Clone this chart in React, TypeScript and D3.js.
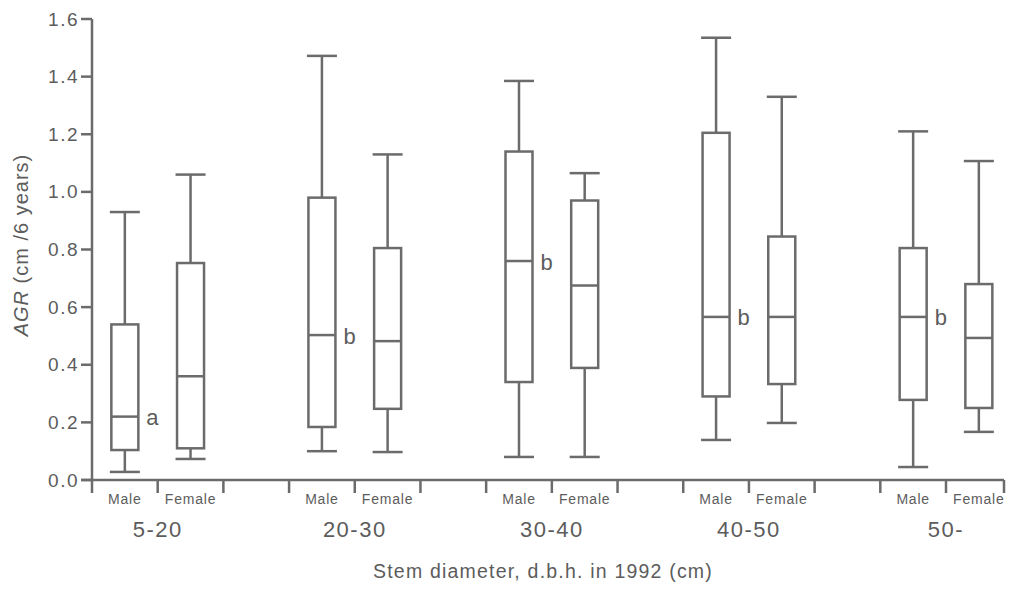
import React, { useEffect, useRef } from 'react';
import * as d3 from 'd3';

// stem diameter classes and sexes
const groups = ['5-20', '20-30', '30-40', '40-50', '50-'];
const sexes = ['Male', 'Female'];

// box statistics, order: group0 male, group0 female, group1 male, ...
const whiskerLow = [0.028, 0.073, 0.10, 0.097, 0.08, 0.08, 0.139, 0.198, 0.045, 0.167];
const quart1 = [0.104, 0.11, 0.184, 0.247, 0.34, 0.389, 0.29, 0.333, 0.278, 0.25];
const medians = [0.22, 0.36, 0.503, 0.482, 0.76, 0.675, 0.566, 0.566, 0.566, 0.493];
const quart3 = [0.54, 0.753, 0.98, 0.805, 1.14, 0.97, 1.205, 0.845, 0.805, 0.68];
const whiskerHigh = [0.93, 1.06, 1.472, 1.13, 1.385, 1.065, 1.535, 1.33, 1.21, 1.107];

// significance letters for male boxes
const maleLetters = ['a', 'b', 'b', 'b', 'b'];

const yTicks = [0, 0.2, 0.4, 0.6, 0.8, 1.0, 1.2, 1.4, 1.6];

const W = 1009;
const H = 591;
const INK = '#6b6b6b';
const TEXT = '#5c5c5c';
const FONT = '"Liberation Sans", Arial, Helvetica, sans-serif';

export default function App() {
  const svgRef = useRef<SVGSVGElement>(null);

  useEffect(() => {
    if (!svgRef.current) return;
    const svg = d3.select(svgRef.current);
    svg.selectAll('*').remove();

    const y = d3.scaleLinear().domain([0, 1.6]).range([480, 19]);
    // slots: each group = male slot, female slot, empty slot
    const x = d3.scaleLinear().domain([0, 13]).range([92, 946]);
    const axisEnd = 1004;

    const g = svg.append('g');

    // y axis
    g.append('line')
      .attr('x1', x(0)).attr('x2', x(0))
      .attr('y1', y(0)).attr('y2', y(1.6))
      .attr('stroke', INK).attr('stroke-width', 2.5);

    yTicks.forEach(t => {
      g.append('line')
        .attr('x1', x(0) - 11).attr('x2', x(0))
        .attr('y1', y(t)).attr('y2', y(t))
        .attr('stroke', INK).attr('stroke-width', 2.5);
      g.append('text')
        .attr('x', x(0) - 13)
        .attr('y', y(t))
        .attr('text-anchor', 'end')
        .attr('dominant-baseline', 'central')
        .style('font-size', '19px')
        .style('letter-spacing', '1.5px')
        .style('font-family', FONT)
        .style('fill', TEXT)
        .text(t.toFixed(1));
    });

    // x axis
    g.append('line')
      .attr('x1', x(0) - 11).attr('x2', axisEnd)
      .attr('y1', y(0)).attr('y2', y(0))
      .attr('stroke', INK).attr('stroke-width', 2.5);

    const tickPos = d3.range(0, 14).map(i => x(i)).concat([axisEnd]);
    tickPos.forEach(px => {
      g.append('line')
        .attr('x1', px).attr('x2', px)
        .attr('y1', y(0)).attr('y2', y(0) + 13)
        .attr('stroke', INK).attr('stroke-width', 2.5);
    });

    const boxW = 27;
    const capW = 30;

    groups.forEach((grp, gi) => {
      sexes.forEach((sex, si) => {
        const k = gi * 2 + si;
        const slot = gi * 3 + si;
        const cx = x(slot + 0.5);

        // whisker
        g.append('line')
          .attr('x1', cx).attr('x2', cx)
          .attr('y1', y(whiskerHigh[k])).attr('y2', y(whiskerLow[k]))
          .attr('stroke', INK).attr('stroke-width', 2.5);
        [whiskerHigh[k], whiskerLow[k]].forEach(v => {
          g.append('line')
            .attr('x1', cx - capW / 2).attr('x2', cx + capW / 2)
            .attr('y1', y(v)).attr('y2', y(v))
            .attr('stroke', INK).attr('stroke-width', 2.5);
        });

        // box
        g.append('rect')
          .attr('x', cx - boxW / 2)
          .attr('y', y(quart3[k]))
          .attr('width', boxW)
          .attr('height', y(quart1[k]) - y(quart3[k]))
          .attr('fill', '#fff')
          .attr('stroke', INK).attr('stroke-width', 2.5);

        // median
        g.append('line')
          .attr('x1', cx - boxW / 2).attr('x2', cx + boxW / 2)
          .attr('y1', y(medians[k])).attr('y2', y(medians[k]))
          .attr('stroke', INK).attr('stroke-width', 2.5);

        // sex label
        g.append('text')
          .attr('x', cx)
          .attr('y', y(0) + 24)
          .attr('text-anchor', 'middle')
          .style('font-size', '14px')
          .style('letter-spacing', '0.8px')
          .style('font-family', FONT)
          .style('fill', TEXT)
          .text(sex);

        if (si === 0) {
          g.append('text')
            .attr('x', cx + boxW / 2 + 8)
            .attr('y', y(medians[k]) + 1)
            .attr('dominant-baseline', 'central')
            .style('font-size', '22px')
            .style('font-family', FONT)
            .style('fill', TEXT)
            .text(maleLetters[gi]);
        }
      });

      // group label
      g.append('text')
        .attr('x', x(gi * 3 + 1))
        .attr('y', y(0) + 57)
        .attr('text-anchor', 'middle')
        .style('font-size', '22px')
        .style('letter-spacing', '1.5px')
        .style('font-family', FONT)
        .style('fill', TEXT)
        .text(grp);
    });

    // axis titles
    g.append('text')
      .attr('x', 543)
      .attr('y', 578)
      .attr('text-anchor', 'middle')
      .style('font-size', '19.5px')
      .style('letter-spacing', '1.2px')
      .style('font-family', FONT)
      .style('fill', TEXT)
      .text('Stem diameter, d.b.h. in 1992 (cm)');

    const yt = g.append('text')
      .attr('transform', 'translate(28,245) rotate(-90)')
      .attr('text-anchor', 'middle')
      .style('font-size', '20px')
      .style('letter-spacing', '1px')
      .style('font-family', FONT)
      .style('fill', TEXT);
    yt.append('tspan').style('font-style', 'italic').text('AGR');
    yt.append('tspan').text(' (cm /6 years)');
  }, []);

  return (
    <svg
      ref={svgRef}
      width={W}
      height={H}
      style={{ position: 'absolute', left: 0, top: 0, background: '#fff' }}
    />
  );
}
